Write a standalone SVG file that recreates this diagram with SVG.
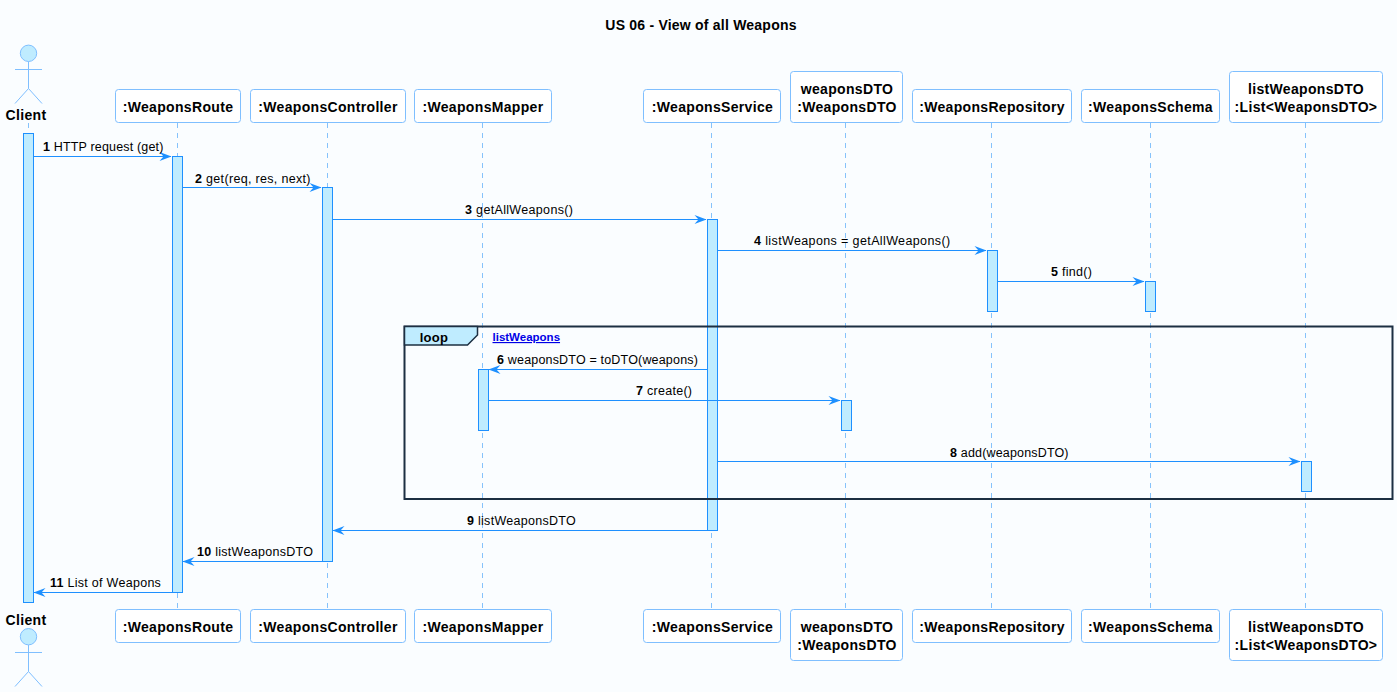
<svg xmlns="http://www.w3.org/2000/svg" width="1397" height="692" viewBox="0 0 1397 692">
<style>
text{font-family:"Liberation Sans",Arial,sans-serif;fill:#000}
.b{font-weight:bold;font-size:14px;text-anchor:middle;letter-spacing:.33px}
.t{font-weight:bold;font-size:14px;text-anchor:middle;letter-spacing:.22px}
.m{font-size:12.5px;letter-spacing:.28px}
.n{font-weight:bold}
.box{fill:#fff;stroke:#7fbfff;stroke-width:1}
.ll{stroke:#85c2fb;stroke-width:1;stroke-dasharray:5 5;fill:none}
.act{fill:#bfecff;stroke:#1e90ff;stroke-width:1}
.actor{fill:none;stroke:#7fbfff;stroke-width:1}
.head{fill:#bfecff;stroke:#7fbfff;stroke-width:1}
.msg{stroke:#1e90ff;stroke-width:1;fill:none}
.ah{fill:#1e90ff;stroke:none}
</style>
<defs>
<polygon id="ar" class="ah" points="0,0 -12,-4.5 -8,0 -12,4.5"/>
<polygon id="al" class="ah" points="0,0 12,-4.5 8,0 12,4.5"/>
</defs>
<rect width="1397" height="692" fill="#fafdff"/>
<text x="701" y="30" class="t">US 06 - View of all Weapons</text>
<g id="lifelines">
<path class="ll" d="M28.5 123V603M177.5 123V609M327.5 123V609M482.5 123V609M711.5 123V609M845.5 123V609M991.5 123V609M1150.5 123V609M1305.5 123V609"/>
</g>
<g id="client"><circle class="head" cx="28.5" cy="53.3" r="8.2"/><path class="actor" d="M28.5 61.5V88.5M15 69.5H42M15 103.5L28.5 88.5L42 103.5"/><text x="26" y="120" class="b">Client</text></g>
<g id="client-bottom"><text x="26" y="625" class="b">Client</text><circle class="head" cx="28.5" cy="636.7" r="8.2"/><path class="actor" d="M28.5 645V671.5M15 652.5H42M15 686.5L28.5 671.5L42 686.5"/></g>
<g id="route"><rect class="box" x="115.5" y="89.5" width="125" height="33" rx="3"/><text x="178" y="112" class="b">:WeaponsRoute</text></g>
<g id="controller"><rect class="box" x="250.5" y="89.5" width="155" height="33" rx="3"/><text x="328" y="112" class="b">:WeaponsController</text></g>
<g id="mapper"><rect class="box" x="414.5" y="89.5" width="137" height="33" rx="3"/><text x="483" y="112" class="b">:WeaponsMapper</text></g>
<g id="service"><rect class="box" x="643.5" y="89.5" width="137" height="33" rx="3"/><text x="712.5" y="112" class="b">:WeaponsService</text></g>
<g id="dto"><rect class="box" x="790.5" y="71.5" width="112" height="51" rx="3"/><text x="847" y="94" class="b">weaponsDTO</text><text x="847" y="112" class="b">:WeaponsDTO</text></g>
<g id="repo"><rect class="box" x="912.5" y="89.5" width="159" height="33" rx="3"/><text x="992" y="112" class="b">:WeaponsRepository</text></g>
<g id="schema"><rect class="box" x="1081.5" y="89.5" width="138" height="33" rx="3"/><text x="1150.5" y="112" class="b">:WeaponsSchema</text></g>
<g id="list"><rect class="box" x="1229.5" y="71.5" width="153" height="51" rx="3"/><text x="1306" y="94" class="b">listWeaponsDTO</text><text x="1306" y="112" class="b">:List&lt;WeaponsDTO&gt;</text></g>
<g id="route-bottom"><rect class="box" x="115.5" y="609.5" width="125" height="33" rx="3"/><text x="178" y="632" class="b">:WeaponsRoute</text></g>
<g id="controller-bottom"><rect class="box" x="250.5" y="609.5" width="155" height="33" rx="3"/><text x="328" y="632" class="b">:WeaponsController</text></g>
<g id="mapper-bottom"><rect class="box" x="414.5" y="609.5" width="137" height="33" rx="3"/><text x="483" y="632" class="b">:WeaponsMapper</text></g>
<g id="service-bottom"><rect class="box" x="643.5" y="609.5" width="137" height="33" rx="3"/><text x="712.5" y="632" class="b">:WeaponsService</text></g>
<g id="dto-bottom"><rect class="box" x="790.5" y="609.5" width="112" height="51" rx="3"/><text x="847" y="632" class="b">weaponsDTO</text><text x="847" y="650" class="b">:WeaponsDTO</text></g>
<g id="repo-bottom"><rect class="box" x="912.5" y="609.5" width="159" height="33" rx="3"/><text x="992" y="632" class="b">:WeaponsRepository</text></g>
<g id="schema-bottom"><rect class="box" x="1081.5" y="609.5" width="138" height="33" rx="3"/><text x="1150.5" y="632" class="b">:WeaponsSchema</text></g>
<g id="list-bottom"><rect class="box" x="1229.5" y="609.5" width="153" height="51" rx="3"/><text x="1306" y="632" class="b">listWeaponsDTO</text><text x="1306" y="650" class="b">:List&lt;WeaponsDTO&gt;</text></g>
<g id="activations">
<rect class="act" x="23.5" y="133.5" width="10" height="469"/>
<rect class="act" x="172.5" y="156.5" width="10" height="436"/>
<rect class="act" x="322.5" y="187.5" width="10" height="374"/>
<rect class="act" x="707.5" y="219.5" width="10" height="311"/>
<rect class="act" x="987.5" y="250.5" width="10" height="61"/>
<rect class="act" x="1145.5" y="281.5" width="10" height="30"/>
<rect class="act" x="478.5" y="369.5" width="10" height="61"/>
<rect class="act" x="841.5" y="400.5" width="10" height="30"/>
<rect class="act" x="1301.5" y="461.5" width="10" height="30"/>
</g>
<g id="loop">
<rect x="404.5" y="326.5" width="988" height="172.5" fill="none" stroke="#1c2f42" stroke-width="2"/>
<path d="M404.5 326.5H477.5V335L467.5 345H404.5Z" fill="#bfecff" stroke="#1c2f42" stroke-width="1.5"/>
<text x="434" y="342" font-weight="bold" font-size="13" text-anchor="middle" letter-spacing=".3">loop</text>
<text x="492.5" y="341" font-weight="bold" font-size="11.5" text-decoration="underline" style="fill:#0000e6">listWeapons</text>
</g>
<g id="connectors">
<path class="msg" d="M33.5 156.5H171M182.5 187.5H321M332.5 219.5H706M717.5 250.5H986M997.5 281.5H1144M707.5 369.5H489M488.5 400.5H840M717.5 461.5H1300M707.5 530.5H333M322.5 561.5H183M172.5 592.5H34"/>
<use href="#ar" x="171.5" y="156.5"/><use href="#ar" x="321.5" y="187.5"/><use href="#ar" x="706.5" y="219.5"/><use href="#ar" x="986.5" y="250.5"/><use href="#ar" x="1144.5" y="281.5"/><use href="#al" x="488.5" y="369.5"/><use href="#ar" x="840.5" y="400.5"/><use href="#ar" x="1300.5" y="461.5"/><use href="#al" x="332.5" y="530.5"/><use href="#al" x="182.5" y="561.5"/><use href="#al" x="33.5" y="592.5"/>
<text class="m" x="43" y="151" style="letter-spacing:.17px"><tspan class="n">1</tspan> HTTP request (get)</text>
<text class="m" x="195" y="183" style="letter-spacing:.32px"><tspan class="n">2</tspan> get(req, res, next)</text>
<text class="m" x="465" y="214" style="letter-spacing:.33px"><tspan class="n">3</tspan> getAllWeapons()</text>
<text class="m" x="754" y="245" style="letter-spacing:.38px"><tspan class="n">4</tspan> listWeapons = getAllWeapons()</text>
<text class="m" x="1051" y="276"><tspan class="n">5</tspan> find()</text>
<text class="m" x="497" y="364" style="letter-spacing:.18px"><tspan class="n">6</tspan> weaponsDTO = toDTO(weapons)</text>
<text class="m" x="636" y="395"><tspan class="n">7</tspan> create()</text>
<text class="m" x="950" y="457" style="letter-spacing:.17px"><tspan class="n">8</tspan> add(weaponsDTO)</text>
<text class="m" x="467" y="525"><tspan class="n">9</tspan> listWeaponsDTO</text>
<text class="m" x="197" y="556"><tspan class="n">10</tspan> listWeaponsDTO</text>
<text class="m" x="50" y="587"><tspan class="n">11</tspan> List of Weapons</text>
</g>
</svg>
